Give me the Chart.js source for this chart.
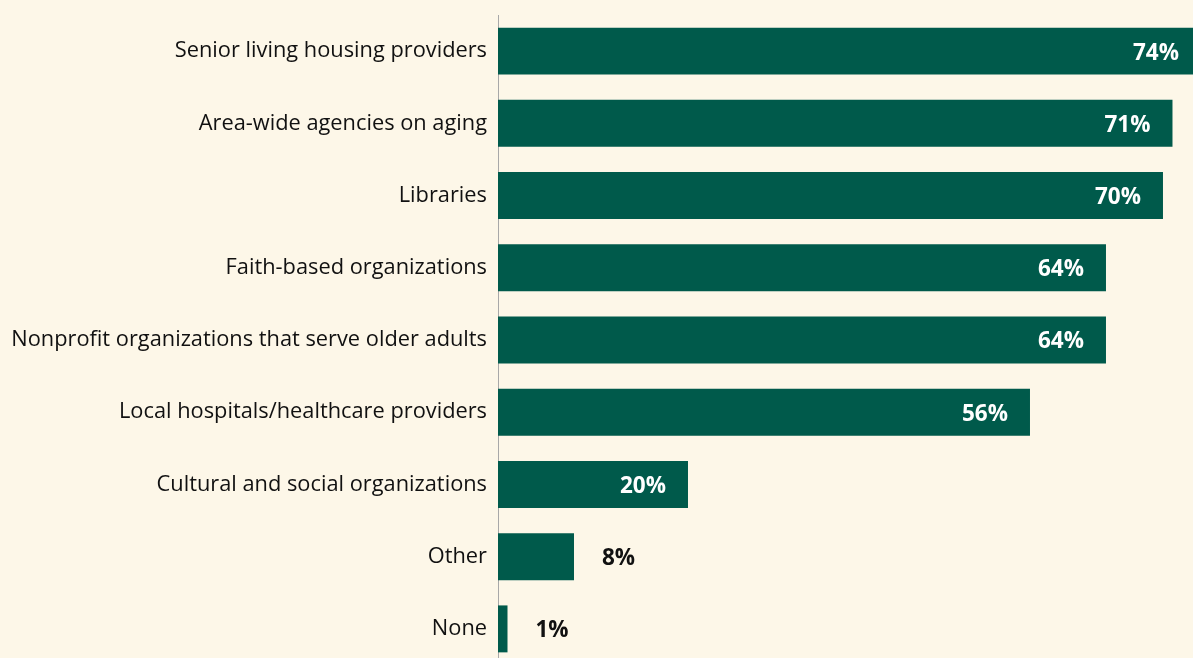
<!DOCTYPE html>
<html>
<head>
<meta charset="utf-8">
<script src="https://cdn.jsdelivr.net/npm/chart.js@4"></script>
<style>
  html, body { margin: 0; padding: 0; background: #fdf7e8; overflow: hidden; }
</style>
</head>
<body>
<canvas id="bars" width="1193" height="665"></canvas>
<script>
const categories = [
  "Senior living housing providers",
  "Area-wide agencies on aging",
  "Libraries",
  "Faith-based organizations",
  "Nonprofit organizations that serve older adults",
  "Local hospitals/healthcare providers",
  "Cultural and social organizations",
  "Other",
  "None"
];
const values = [74, 71, 70, 64, 64, 56, 20, 8, 1];
const valueLabels = ["74%", "71%", "70%", "64%", "64%", "56%", "20%", "8%", "1%"];

const barColor = "#005a4b";

// writes the percentages inside the long bars, beside the short ones
const valueLabelPlugin = {
  id: "valueLabels",
  afterDatasetsDraw(chart) {
    const ctx = chart.ctx;
    const meta = chart.getDatasetMeta(0);
    ctx.save();
    ctx.font = "bold 22.5px 'Open Sans'";
    ctx.textBaseline = "middle";
    meta.data.forEach((bar, i) => {
      if (values[i] >= 15) {
        ctx.fillStyle = "#ffffff";
        ctx.textAlign = "right";
        ctx.fillText(valueLabels[i], bar.x - 22, bar.y + 2);
      } else {
        ctx.fillStyle = "#111111";
        ctx.textAlign = "left";
        ctx.fillText(valueLabels[i], bar.x + 28, bar.y + 2);
      }
    });
    ctx.restore();
  },
};

let barras = new Chart(document.getElementById("bars"), {
  type: "bar",
  data: {
    labels: categories,
    datasets: [
      {
        data: values,
        backgroundColor: barColor,
        categoryPercentage: 1,
        barPercentage: 0.65,
      },
    ],
  },
  options: {
    indexAxis: "y",
    responsive: false,
    animation: false,
    layout: {
      padding: { left: 0, right: 0, top: 15, bottom: 0 },
    },
    plugins: {
      legend: { display: false },
      tooltip: { enabled: false },
    },
    scales: {
      x: {
        min: 0,
        max: 73.16,
        display: false,
      },
      y: {
        grid: { display: false, drawTicks: false },
        border: { display: true, color: "#a8a8a8", width: 1 },
        ticks: {
          color: "#111111",
          padding: 11,
          font: { size: 21.8, family: "'Open Sans'" },
        },
        afterFit(scale) {
          scale.width = 498;
          scale.paddingTop = 0;
          scale.paddingBottom = 0;
        },
      },
    },
  },
  plugins: [valueLabelPlugin],
});
</script>
</body>
</html>
